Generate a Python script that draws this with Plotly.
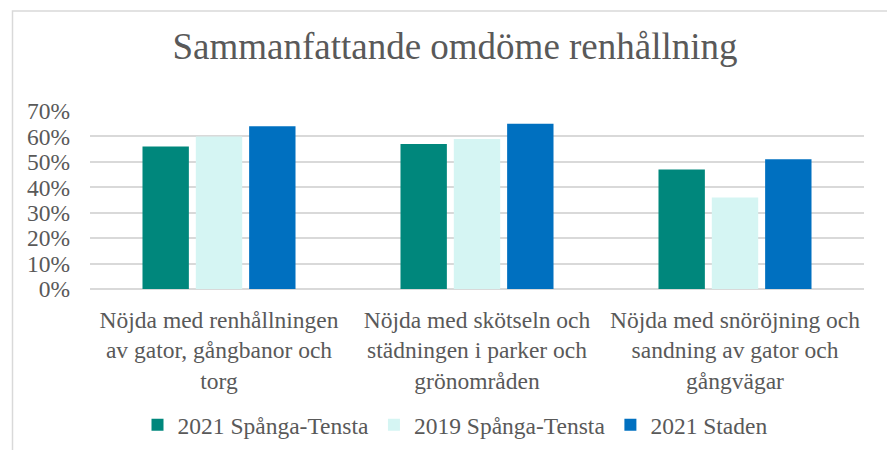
import plotly.graph_objects as go

categories = [
    "Nöjda med renhållningen<br>av gator, gångbanor och<br>torg",
    "Nöjda med skötseln och<br>städningen i parker och<br>grönområden",
    "Nöjda med snöröjning och<br>sandning av gator och<br>gångvägar",
]
series_names = ["2021 Spånga-Tensta", "2019 Spånga-Tensta", "2021 Staden"]
values_2021_st = [0.56, 0.57, 0.47]
values_2019_st = [0.60, 0.59, 0.36]
values_2021_staden = [0.64, 0.65, 0.51]
colors = ["#00877C", "#D5F5F3", "#0070C0"]
y_ticks = [0, 0.1, 0.2, 0.3, 0.4, 0.5, 0.6, 0.7]

# page has an 8px body margin, so figure coordinates = screen coordinates - 8
OFF = 8
W, H = 895 - OFF, 450 - OFF
L = 90 - OFF
R = W - (864 - OFF)
T = 111 - OFF
B = H - (289 - OFF)
pw, ph = W - L - R, H - T - B

fig = go.Figure()
for name, vals, col in zip(series_names, [values_2021_st, values_2019_st, values_2021_staden], colors):
    fig.add_trace(go.Bar(x=categories, y=vals, name=name, marker=dict(color=col, line=dict(width=0))))

font_family = "Liberation Serif"
txt = "#595959"
grid = "#D9D9D9"

def px_x(p):
    return (p - OFF - L) / pw

def px_y(p):
    return (H - B - (p - OFF)) / ph

fig.update_layout(
    width=W, height=H,
    margin=dict(l=L, r=R, t=T, b=B, autoexpand=False),
    paper_bgcolor="white", plot_bgcolor="white",
    barmode="group", bargap=0.38, bargroupgap=0.13,
    font=dict(family=font_family, color=txt, size=23.5),
    title=dict(text="Sammanfattande omdöme renhållning", x=(455 - OFF) / W, xanchor="center",
               y=1 - (46 - OFF) / H, yanchor="middle", yref="container",
               font=dict(size=37, color=txt, family=font_family)),
    yaxis=dict(range=[0, 0.7], tickvals=y_ticks, tickformat=".0%", showgrid=True,
               gridcolor=grid, gridwidth=1.5, zeroline=True, zerolinecolor=grid,
               zerolinewidth=1.5, ticks="", ticklabelstandoff=19, fixedrange=True,
               automargin=False, tickfont=dict(size=23.5, color=txt, family=font_family)),
    xaxis=dict(showgrid=False, ticks="", tickfont=dict(size=23.5, color=txt, family=font_family),
               showline=False, tickangle=0, automargin=False, ticklabelstandoff=14),
    showlegend=True,
    legend=dict(orientation="h", x=px_x(455), xanchor="center", y=px_y(425), yanchor="middle",
                font=dict(size=23.5, color=txt, family=font_family), traceorder="normal"),
    shapes=[dict(type="rect", xref="paper", yref="paper",
                 x0=px_x(12.5), x1=px_x(894.5), y0=px_y(470), y1=px_y(11),
                 line=dict(color=grid, width=1.5), fillcolor="rgba(0,0,0,0)", layer="below")],
)

fig.write_html("out.html")
